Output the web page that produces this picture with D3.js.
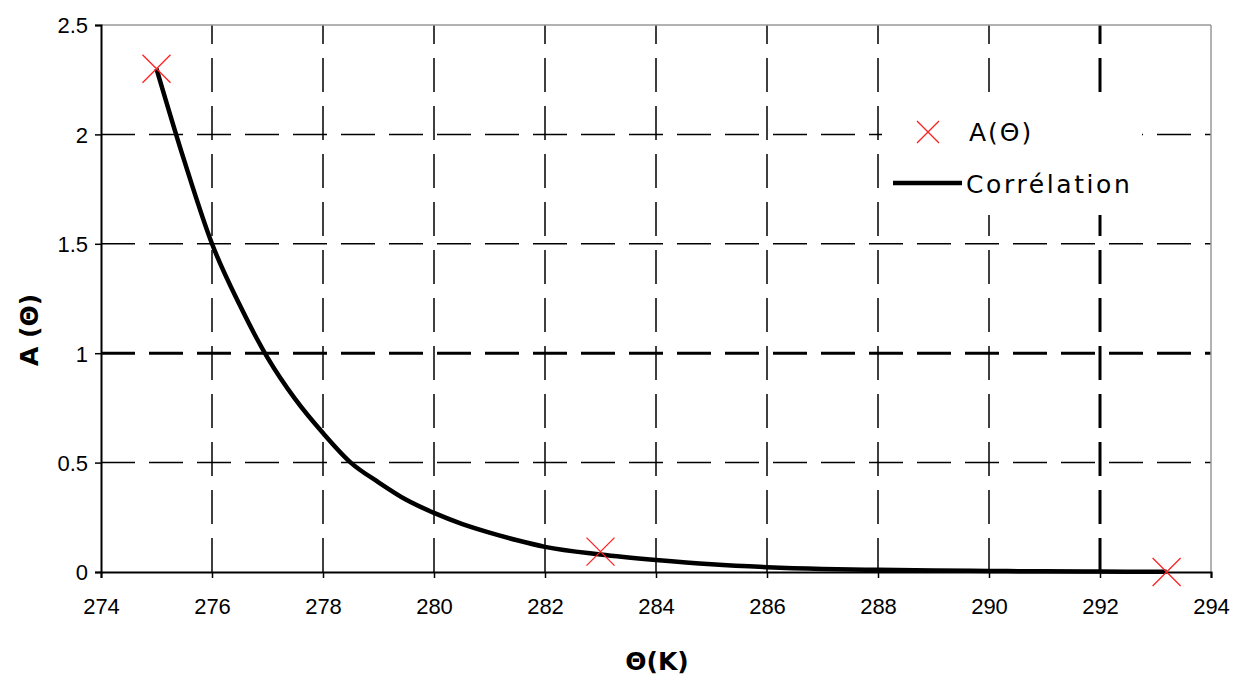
<!DOCTYPE html>
<html><head><meta charset="utf-8">
<script src="https://cdn.jsdelivr.net/npm/d3@7"></script>
<style>body{margin:0;background:#fff}svg{display:block}</style>
</head><body>
<svg id="c" width="1244" height="678"></svg>
<script>
const xTicks = [274,276,278,280,282,284,286,288,290,292,294];
const yTicks = [0,0.5,1,1.5,2,2.5];
const yTickLabels = ["0","0.5","1","1.5","2","2.5"];
const pointsTheta = [275, 283, 293.2];
const pointsA = [2.30, 0.093, 0.0];
const corrTheta = [275,275.5,276,276.5,277,277.5,278,278.5,279,279.5,280,280.5,281,281.5,282,283,284,285,286,287,288,289,290,291,292,293.2];
const corrA = [2.30,1.88,1.50,1.22,0.98,0.79,0.635,0.50,0.41,0.33,0.27,0.22,0.18,0.145,0.115,0.08,0.055,0.035,0.022,0.014,0.01,0.007,0.005,0.003,0.002,0.001];
const legendLabels = ["A(\u0398)", "Corr\u00e9lation"];
const xTitle = "\u0398(K)";
const yTitle = "A (\u0398)";

const svg = d3.select("#c");
const L = 101, R = 1211, T = 25, B = 572;
const x = d3.scaleLinear().domain([274,294]).range([L,R]);
const y = d3.scaleLinear().domain([0,2.5]).range([B,T]);

// gridlines
const g = svg.append("g");
g.selectAll("line.h").data(yTicks.filter(v=>v>0 && v<2.5)).enter().append("line")
  .attr("x1",L).attr("x2",R).attr("y1",d=>y(d)).attr("y2",d=>y(d))
  .attr("stroke","#000").attr("stroke-width",d=>d===1?3:1.5).attr("stroke-dasharray","34,14");
g.selectAll("line.v").data(xTicks.filter(v=>v>274 && v<294)).enter().append("line")
  .attr("x1",d=>x(d)).attr("x2",d=>x(d)).attr("y1",B).attr("y2",T)
  .attr("stroke","#000").attr("stroke-width",d=>d===292?3:1.5).attr("stroke-dasharray","34,14");

// top/right border
svg.append("line").attr("x1",L).attr("x2",R).attr("y1",T).attr("y2",T).attr("stroke","#999").attr("stroke-width",1.5);
svg.append("line").attr("x1",R).attr("x2",R).attr("y1",T).attr("y2",B).attr("stroke","#999").attr("stroke-width",1.5);

// legend background
const lg = svg.append("g");
lg.append("rect").attr("x",882).attr("y",99).attr("width",260).attr("height",116).attr("fill","#fff");

// axes
const xAxis = d3.axisBottom(x).tickValues(xTicks).tickSize(6).tickFormat(d3.format("d"));
const yAxis = d3.axisLeft(y).tickValues(yTicks).tickSize(6).tickFormat((d,i)=>yTickLabels[i]);
const gx = svg.append("g").attr("transform",`translate(0,${B})`).call(xAxis);
const gy = svg.append("g").attr("transform",`translate(${L},0)`).call(yAxis);
[gx,gy].forEach(a=>{
  a.select(".domain").attr("stroke","#000").attr("stroke-width",2);
  a.selectAll(".tick line").attr("stroke","#000").attr("stroke-width",1.5);
  a.selectAll("text").attr("fill","#000").style("font-family","Liberation Sans, Arial, sans-serif").style("font-size","22px");
});
gx.selectAll("text").attr("dy","0").attr("y",42);
gy.selectAll("text").attr("x",-13).attr("dy","0.36em");

// correlation curve
const line = d3.line().x((d,i)=>x(corrTheta[i])).y((d,i)=>y(corrA[i])).curve(d3.curveMonotoneX);
svg.append("path").datum(corrA).attr("d",line).attr("fill","none").attr("stroke","#000").attr("stroke-width",4.5).attr("stroke-linejoin","round");

// points
function cross(sel, cx, cy, h){
  sel.append("path").attr("d",`M${cx-h},${cy-h}L${cx+h},${cy+h}M${cx-h},${cy+h}L${cx+h},${cy-h}`)
    .attr("stroke","#ff2020").attr("stroke-width",1.3).attr("fill","none");
}
pointsTheta.forEach((t,i)=>cross(svg, x(t), y(pointsA[i]), 14));

// legend
const font = "DejaVu Sans, Verdana, sans-serif";
cross(lg, 928, 132, 11);
lg.append("text").attr("x",969).attr("y",141).text(legendLabels[0])
  .style("font-family",font).style("font-size","25px").style("letter-spacing","2px");
lg.append("line").attr("x1",893).attr("x2",962).attr("y1",183).attr("y2",183).attr("stroke","#000").attr("stroke-width",4.5);
lg.append("text").attr("x",966).attr("y",193).text(legendLabels[1])
  .style("font-family",font).style("font-size","25px").style("letter-spacing","2.6px");

// axis titles
svg.append("text").attr("x",657).attr("y",670).attr("text-anchor","middle").text(xTitle)
  .style("font-family",font).style("font-size","25px").style("font-weight","bold");
svg.append("text").attr("transform","translate(38,330) rotate(-90)").attr("text-anchor","middle").text(yTitle)
  .style("font-family",font).style("font-size","25px").style("font-weight","bold");
</script>
</body></html>
